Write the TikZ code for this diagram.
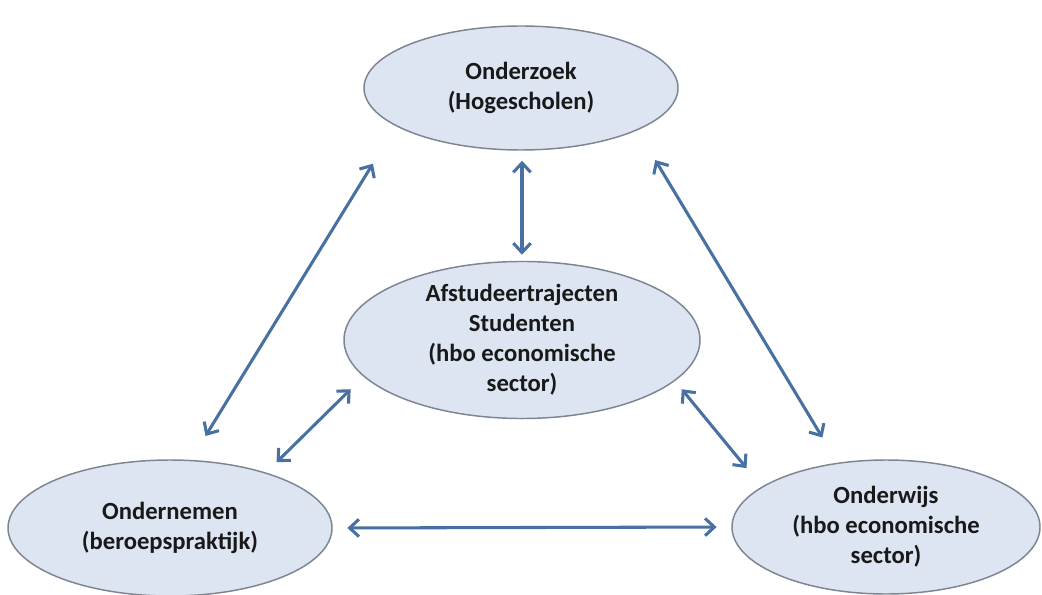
\documentclass[tikz,border=0pt]{standalone}
\usepackage{fontspec}
\setmainfont{Carlito}
\usetikzlibrary{arrows.meta,shapes.geometric}
\begin{document}
\begin{tikzpicture}[x=0.75pt,y=-0.75pt,
    >={Straight Barb[length=7pt,width=13pt]},
    bubble/.style={ellipse,draw=tmpB,line width=1.1pt,fill=tmpA,inner sep=0pt,align=center,
        text=black!90,font=\fontsize{18.5}{22.5}\selectfont\bfseries},
    link/.style={<->,draw=tmpC,line width=2.3pt}]
            \definecolor{tmpA}{RGB}{220,229,241}
            \definecolor{tmpB}{RGB}{125,133,145}
            \definecolor{tmpC}{RGB}{72,112,162}
            \useasboundingbox (0,0) rectangle (1042,595);
            \node[bubble,minimum width=235.5pt,minimum height=93pt] (T) at (521,88) {Onderzoek\\(Hogescholen)};
            \node[bubble,minimum width=267pt,minimum height=100.5pt] (M) at (522,340) {Afstudeertrajecten\\Studenten\\(hbo economische\\sector)};
            \node[bubble,minimum width=243pt,minimum height=102pt] (L) at (170,528) {Ondernemen\\(beroepspraktijk)};
            \node[bubble,minimum width=231pt,minimum height=100.5pt] (R) at (886,527) {Onderwijs\\(hbo economische\\sector)};
            \draw[link,shorten <=7.5pt,shorten >=4.5pt] (T.south -| M.north) -- (M.north);
            \draw[link,shorten <=21pt,shorten >=33pt] (L.73) -- (T.197);
            \draw[link,shorten <=11pt,shorten >=13.5pt] (L.30) -- (M.193);
            \draw[link,shorten <=22pt,shorten >=26pt] (R.127) -- (T.-20);
            \draw[link,shorten <=8pt,shorten >=18pt] (M.-15) -- (R.162);
            \draw[link,shorten <=11pt,shorten >=11pt] (L.east) -- (R.west);
        \end{tikzpicture}
\end{document}
